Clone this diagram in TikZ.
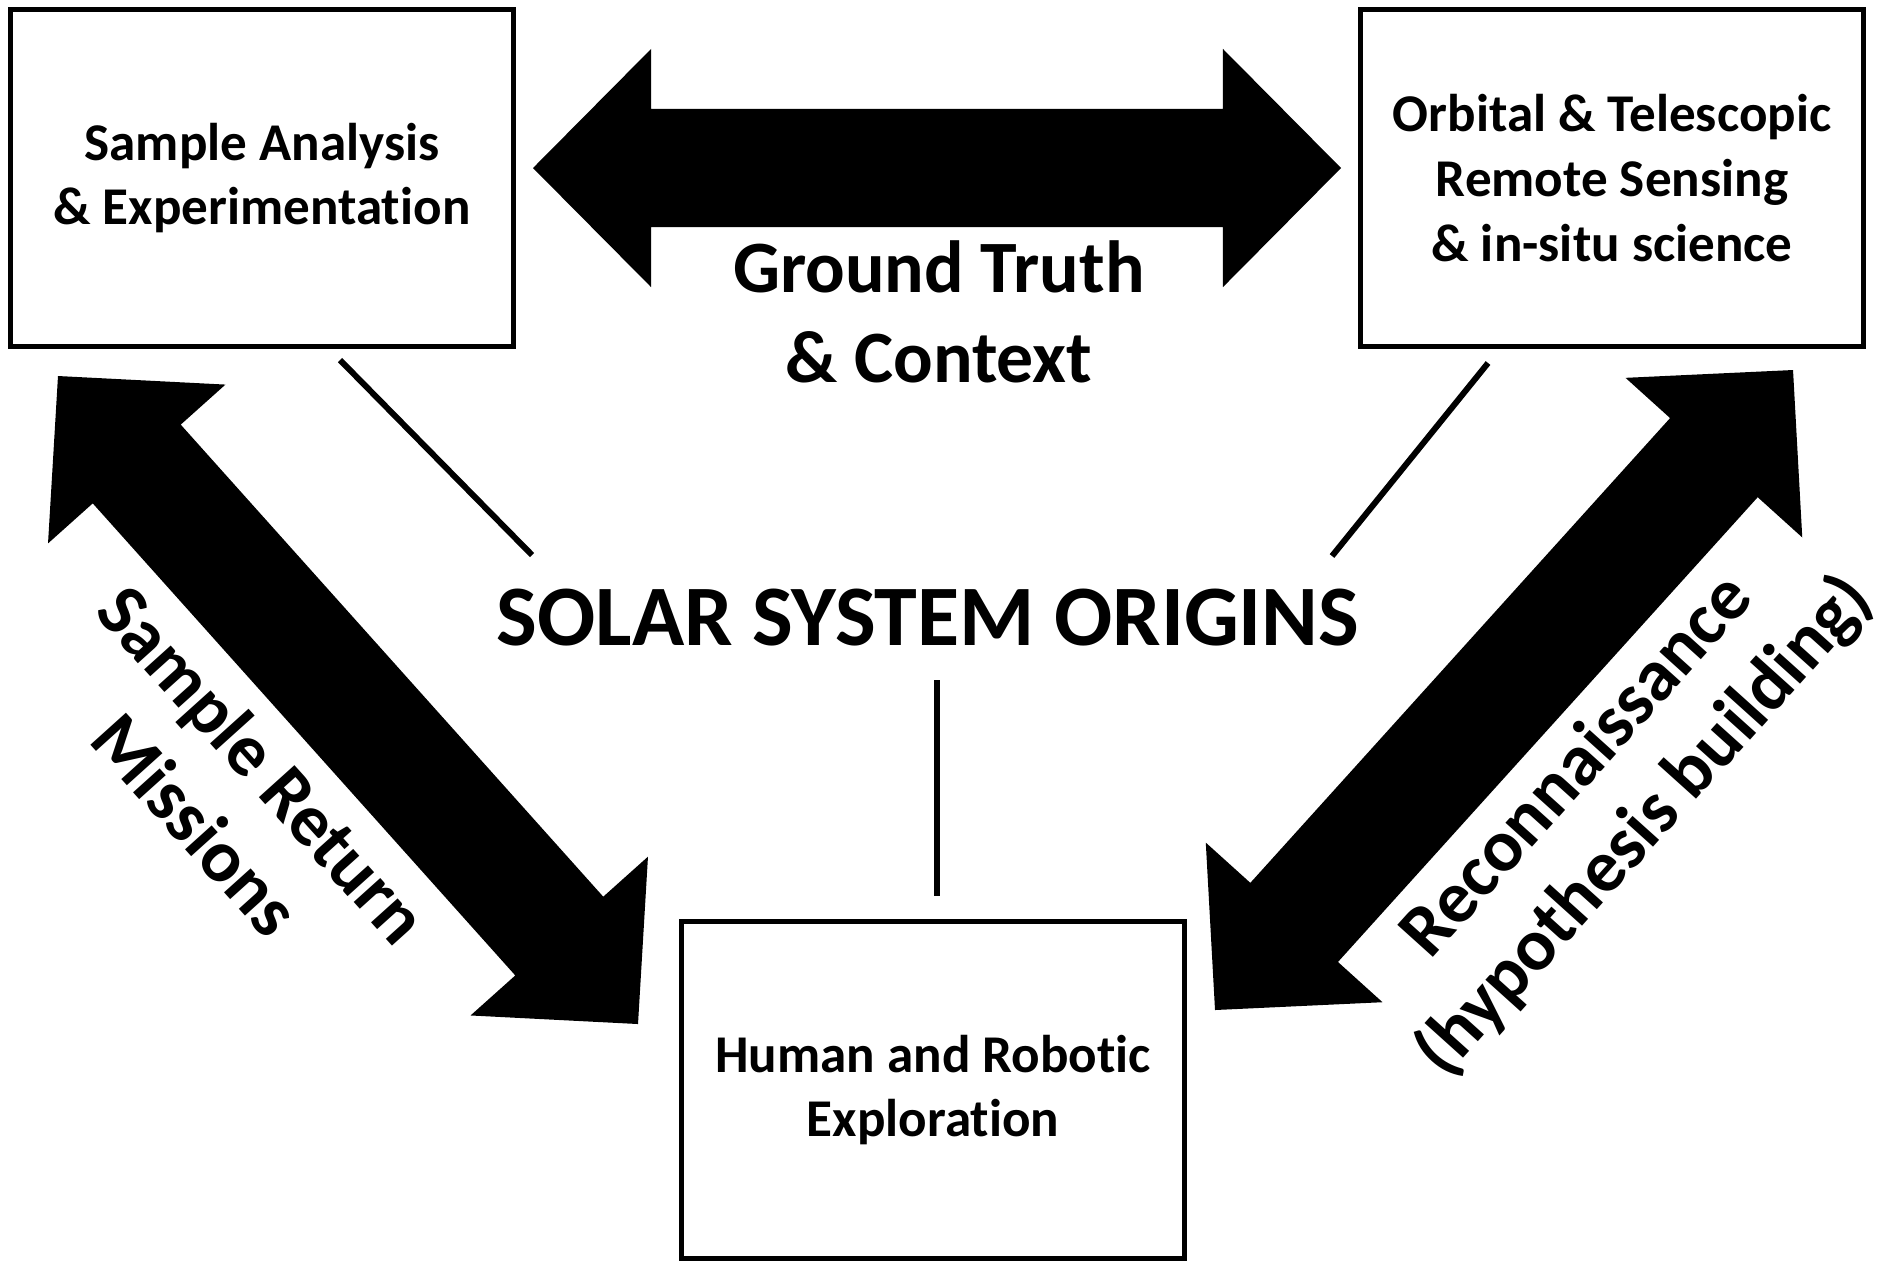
\documentclass[tikz,border=0pt]{standalone}
\usepackage{fontspec}
\setmainfont{Carlito}[Ligatures=NoCommon]
\usetikzlibrary{calc}

\newcommand\boxfont{\fontsize{15.1}{18.4}\selectfont\bfseries}
\newcommand\arrfont{\fontsize{21}{25.6}\selectfont\bfseries}
\newcommand\titlefont{\fontsize{24.5}{29}\selectfont\bfseries}
\newcommand\headlen{1.18cm}
\newcommand\headwid{1.19cm}
\newcommand\shaftwid{0.59cm}
% block double arrow between two tips
\newcommand\bigarrow[2]{%
  \coordinate (h1) at ($(#1)!\headlen!(#2)$);
  \coordinate (h2) at ($(#2)!\headlen!(#1)$);
  \fill (#1) -- ($(h1)!\headwid!90:(#1)$) -- ($(h1)!\shaftwid!90:(#1)$)
    -- ($(h2)!\shaftwid!-90:(#2)$) -- ($(h2)!\headwid!-90:(#2)$) -- (#2)
    -- ($(h2)!\headwid!90:(#2)$) -- ($(h2)!\shaftwid!90:(#2)$)
    -- ($(h1)!\shaftwid!-90:(#1)$) -- ($(h1)!\headwid!-90:(#1)$) -- cycle;}

\begin{document}
\begin{tikzpicture}[x=0.01cm,y=-0.01cm,line join=miter]
\tikzset{box/.style={draw,line width=1.4pt,minimum width=5.03cm,minimum height=3.36cm,align=center,font=\boxfont},
  link/.style={line width=1.7pt},
  arrlabel/.style={align=center,font=\arrfont,inner sep=0pt}}
\useasboundingbox (0,0) rectangle (1883,1262);
% boxes
\node[box] (sample) at (262,178) {Sample Analysis\\\& Experimentation};
\node[box] (orbital) at (1612,178) {Orbital \& Telescopic\\Remote Sensing\\\& in-situ science};
\node[box] (human) at (933,1090) {Human and Robotic\\Exploration};
\node[font=\titlefont,inner sep=0pt] (origins) at (928,618) {SOLAR SYSTEM ORIGINS};
% arrow tips
\coordinate (gtL) at (533,168);
\coordinate (gtR) at (1341,168);
\coordinate (srA) at (58,376);
\coordinate (srB) at (638,1024);
\coordinate (rcA) at (1793,370);
\coordinate (rcB) at (1215,1010);
\bigarrow{gtL}{gtR}
\bigarrow{srA}{srB}
\bigarrow{rcA}{rcB}
\node[arrlabel] (ground) at (939,312) {Ground Truth\\\& Context};
\node[arrlabel,rotate=-48] (return) at (230,794) {Sample Return\\Missions};
\node[arrlabel,rotate=48] (recon) at (1612,797) {Reconnaissance\\(hypothesis building)};
% thin links
\coordinate (l1a) at (340,360);
\coordinate (l1b) at (532,555);
\coordinate (l2a) at (1488,363);
\coordinate (l2b) at (1332,556);
\coordinate (l3a) at (937,680);
\coordinate (l3b) at (937,896);
\draw[link] (l1a) -- (l1b);
\draw[link] (l2a) -- (l2b);
\draw[link] (l3a) -- (l3b);
\end{tikzpicture}
\end{document}
